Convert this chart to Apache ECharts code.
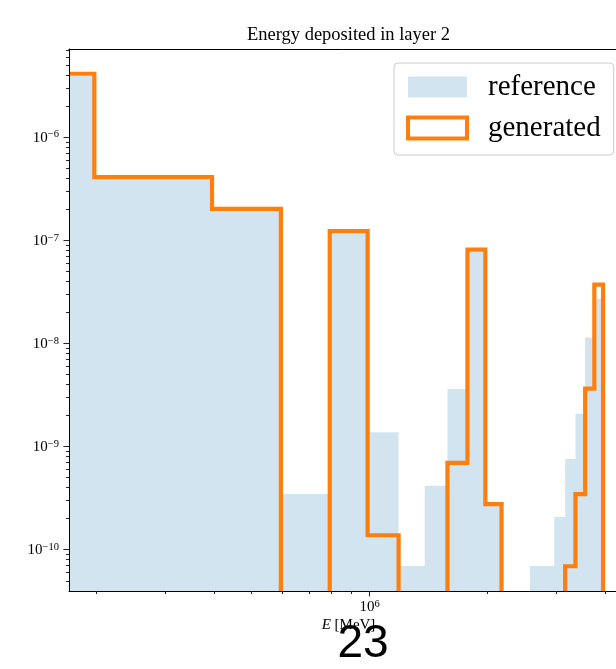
<!DOCTYPE html>
<html>
<head>
<meta charset="utf-8">
<title>Energy deposited in layer 2</title>
<script src="https://cdn.jsdelivr.net/npm/echarts@6.0.0/dist/echarts.min.js"></script>
<style>
  html, body { margin: 0; padding: 0; background: #ffffff; }
  #chart { width: 616px; height: 669px; }
</style>
</head>
<body>
<div id="chart"></div>
<script>
// Histogram bin edges in MeV (20 equal-width bins)
const binEdges = [0, 197700, 395400, 593100, 790800, 988500, 1186200, 1383900, 1581600, 1779300,
  1977000, 2174700, 2372400, 2570100, 2767800, 2965500, 3163200, 3360900, 3558600, 3756300, 3954000];

// Normalised density per bin
const referenceDensity = [3.97e-6, 4.08e-7, 2.02e-7, 3.49e-10, 1.18e-7, 1.39e-9, 7.0e-11, 4.2e-10, 3.65e-9, 7.83e-8,
  2.78e-10, 0, 0, 7.0e-11, 7.0e-11, 2.09e-10, 7.64e-10, 2.1e-9, 1.15e-8, 2.72e-8];
const generatedDensity = [4.17e-6, 4.14e-7, 2.04e-7, 0, 1.24e-7, 1.39e-10, 0, 0, 7.0e-10, 8.22e-8,
  2.78e-10, 0, 0, 0, 0, 0, 6.95e-11, 3.49e-10, 3.67e-9, 3.75e-8];

// Axis ticks
const xMajorTicks = [1e6];
const xTickExponents = ['6'];
const xMinorTicks = [2e5, 3e5, 4e5, 5e5, 6e5, 7e5, 8e5, 9e5, 2e6, 3e6, 4e6];
const yMajorTicks = [1e-10, 1e-9, 1e-8, 1e-7, 1e-6];
const yTickExponents = ['\u221210', '\u22129', '\u22128', '\u22127', '\u22126'];
const yMinorMultipliers = [2, 3, 4, 5, 6, 7, 8, 9];
const yMinorDecades = [-11, -10, -9, -8, -7, -6];

// Axis limits
const X_MIN = 1.703e5, X_MAX = 4.58e6;
const Y_MIN = 4.0e-11, Y_MAX = 7.25e-6;

const SERIF = '"Liberation Serif", "DejaVu Serif", serif';
const REF_FILL = 'rgba(31, 119, 180, 0.2)';
const GEN_LINE = '#ff7f0e';
const TICK_COLOR = '#262626';

const yMinorTicks = [];
yMinorDecades.forEach(d => yMinorMultipliers.forEach(m => {
  const v = m * Math.pow(10, d);
  if (v > Y_MIN * 1.001 && v < Y_MAX) yMinorTicks.push(v);
}));

// consecutive runs of non-empty bins: [[firstIndex, lastIndex], ...]
function nonZeroRuns(values) {
  const runs = [];
  let start = -1;
  for (let i = 0; i <= values.length; i++) {
    const on = i < values.length && values[i] > 0;
    if (on && start < 0) start = i;
    if (!on && start >= 0) { runs.push([start, i - 1]); start = -1; }
  }
  return runs;
}

// top edge of a step histogram over one run, in pixels
function stepTop(api, values, run) {
  const pts = [];
  for (let i = run[0]; i <= run[1]; i++) {
    pts.push(api.coord([Math.max(binEdges[i], X_MIN), values[i]]));
    pts.push(api.coord([binEdges[i + 1], values[i]]));
  }
  return pts;
}

function renderFill(params, api) {
  const children = nonZeroRuns(referenceDensity).map(run => {
    const top = stepTop(api, referenceDensity, run);
    const left = api.coord([Math.max(binEdges[run[0]], X_MIN), Y_MIN]);
    const right = api.coord([binEdges[run[1] + 1], Y_MIN]);
    return { type: 'polygon', shape: { points: [left].concat(top, [right]) }, style: { fill: REF_FILL } };
  });
  return { type: 'group', children };
}

function renderOutline(params, api) {
  const children = nonZeroRuns(generatedDensity).map(run => {
    const pts = stepTop(api, generatedDensity, run);
    if (binEdges[run[0]] > X_MIN) pts.unshift(api.coord([binEdges[run[0]], Y_MIN]));
    pts.push(api.coord([binEdges[run[1] + 1], Y_MIN]));
    return {
      type: 'polyline',
      shape: { points: pts },
      style: { stroke: GEN_LINE, lineWidth: 4.2, fill: null, lineJoin: 'miter', lineCap: 'butt' }
    };
  });
  return { type: 'group', children };
}

const LABEL_RICH = {
  b: { fontSize: 15, fontFamily: SERIF, lineHeight: 17, fill: '#000' },
  e: { fontSize: 10.5, fontFamily: SERIF, lineHeight: 10, verticalAlign: 'top', fill: '#000' }
};

function tickLine(x1, y1, x2, y2) {
  return { type: 'line', shape: { x1, y1, x2, y2 }, style: { stroke: TICK_COLOR, lineWidth: 1 } };
}

function renderAxisMarks(params, api) {
  const children = [];
  const origin = api.coord([X_MIN, Y_MIN]);
  const x0 = origin[0], y0 = origin[1];
  const px = v => Math.floor(v) + 0.5;

  xMinorTicks.forEach(v => {
    const x = px(api.coord([v, Y_MIN])[0]);
    children.push(tickLine(x, y0, x, y0 + 3));
  });
  xMajorTicks.forEach((v, i) => {
    const x = api.coord([v, Y_MIN])[0];
    children.push(tickLine(px(x), y0, px(x), y0 + 5.5));
    children.push({
      type: 'text', x: x, y: y0 + 16,
      style: { legacy: false, text: '{b|10}{e|' + xTickExponents[i] + '}', rich: LABEL_RICH,
               align: 'center', verticalAlign: 'middle', fill: '#000' }
    });
  });
  yMinorTicks.forEach(v => {
    const y = px(api.coord([X_MIN, v])[1]);
    children.push(tickLine(x0 - 3, y, x0, y));
  });
  yMajorTicks.forEach((v, i) => {
    const y = api.coord([X_MIN, v])[1];
    children.push(tickLine(x0 - 5.5, px(y), x0, px(y)));
    children.push({
      type: 'text', x: x0 - 10, y: y,
      style: { legacy: false, text: '{b|10}{e|' + yTickExponents[i] + '}', rich: LABEL_RICH,
               align: 'right', verticalAlign: 'middle', fill: '#000' }
    });
  });
  return { type: 'group', children };
}

const logAxisBase = {
  type: 'log', logBase: 10,
  axisTick: { show: false },
  axisLabel: { show: false },
  splitLine: { show: false },
  axisLine: { show: true, onZero: false, lineStyle: { color: '#000', width: 1 } },
  z: 10
};

const chart = echarts.init(document.getElementById('chart'), null, { renderer: 'canvas' });
chart.setOption({
  animation: false,
  backgroundColor: '#ffffff',
  grid: { left: 69, top: 49, right: -12, bottom: 78, containLabel: false, outerBoundsMode: 'none' },
  xAxis: [
    Object.assign({}, logAxisBase, {
      min: X_MIN, max: X_MAX, position: 'bottom',
      name: '{i|E} [MeV]', nameLocation: 'middle', nameGap: 27,
      nameTextStyle: {
        fontFamily: SERIF, fontSize: 15, color: '#000',
        rich: { i: { fontFamily: SERIF, fontSize: 15, fontStyle: 'italic', color: '#000' } }
      }
    }),
    Object.assign({}, logAxisBase, { min: X_MIN, max: X_MAX, position: 'top' })
  ],
  yAxis: Object.assign({}, logAxisBase, { min: Y_MIN, max: Y_MAX }),
  legend: {
    orient: 'vertical', left: 394, top: 63,
    padding: [9, 13, 12, 12],
    itemWidth: 59, itemHeight: 21, itemGap: 11,
    backgroundColor: 'rgba(255,255,255,0.8)', borderColor: '#cccccc', borderWidth: 1, borderRadius: 4,
    textStyle: { fontFamily: SERIF, fontSize: 29, color: '#000', lineHeight: 30, padding: [0, 0, 0, 16] },
    selectedMode: false,
    data: [
      { name: 'reference', icon: 'rect', itemStyle: { color: '#d2e4f0', borderWidth: 0 } },
      { name: 'generated', icon: 'rect', itemStyle: { color: '#ffffff', borderColor: GEN_LINE, borderWidth: 4 } }
    ]
  },
  graphic: [
    {
      type: 'text', x: 348.5, y: 35, z: 20,
      style: { legacy: false, text: 'Energy deposited in layer 2', fontFamily: SERIF, fontSize: 18.5,
               fill: '#000', align: 'center', verticalAlign: 'middle' }
    },
    {
      type: 'text', x: 363, y: 644, z: 100,
      style: { legacy: false, text: '23', fontFamily: '"Liberation Sans", Arial, sans-serif', fontSize: 46,
               fill: '#000', align: 'center', verticalAlign: 'middle' }
    }
  ],
  series: [
    {
      name: 'reference', type: 'custom', z: 1, silent: true,
      itemStyle: { color: '#d2e4f0' },
      data: [[X_MIN, Y_MIN]], renderItem: renderFill
    },
    {
      name: 'generated', type: 'custom', z: 3, silent: true,
      itemStyle: { color: GEN_LINE },
      data: [[X_MIN, Y_MIN]], renderItem: renderOutline
    },
    {
      name: 'axis marks', type: 'custom', z: 12, silent: true,
      data: [[X_MIN, Y_MIN]], renderItem: renderAxisMarks
    }
  ]
});
</script>
</body>
</html>
